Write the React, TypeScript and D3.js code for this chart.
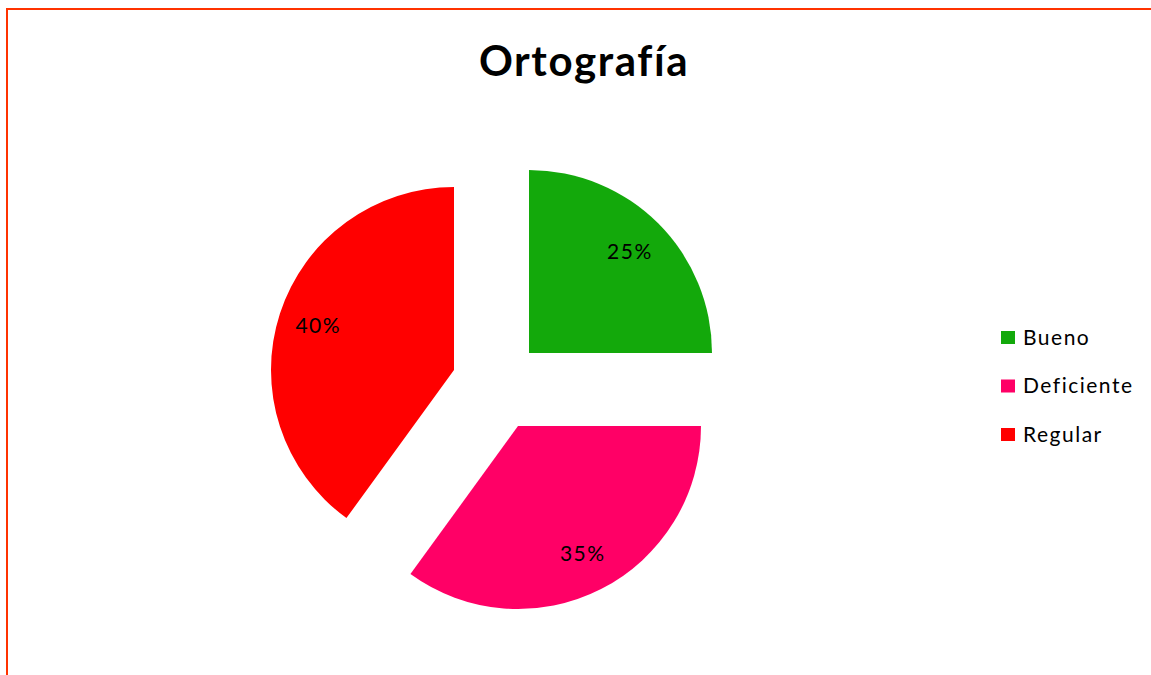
import * as d3 from 'd3'
import { useEffect, useRef } from 'react'

// datos del gráfico
const categories = ['Bueno', 'Deficiente', 'Regular']
const values = [25, 35, 40]
const colors = ['#13A90B', '#FF0066', '#FF0000']
const title = 'Ortografía'

// dónde queda el vértice de cada porción (gráfico "explotado")
const apex: [number, number][] = [[529, 353], [518, 426], [454, 370]]
const R = 183

function makeChart(svgEl: SVGSVGElement) {
    const svg = d3.select(svgEl)
    svg.selectAll('*').remove()

    // borde del área del gráfico
    svg.append('line').attr('x1', 7).attr('y1', 9).attr('x2', 1151).attr('y2', 9)
        .attr('stroke', '#FF3300').attr('stroke-width', 2)
    svg.append('line').attr('x1', 7).attr('y1', 8).attr('x2', 7).attr('y2', 675)
        .attr('stroke', '#FF3300').attr('stroke-width', 2)

    svg.append('text')
        .attr('x', 584).attr('y', 76)
        .attr('text-anchor', 'middle')
        .attr('font-family', 'Lato, sans-serif')
        .attr('font-weight', 'bold').attr('font-size', 42)
        .attr('letter-spacing', 1.6)
        .attr('fill', '#000')
        .text(title)

    const data = categories.map((c, i) => ({ name: c, value: values[i], color: colors[i] }))
    const pie = d3.pie<any>().value(d => d.value).sort(null)(data)
    const total = d3.sum(values)

    const arcMkr = d3.arc<any>().innerRadius(0).outerRadius(R)
    const lblArc = d3.arc<any>().innerRadius(R * 0.78).outerRadius(R * 0.78)

    const g = svg.selectAll('g.slice').data(pie).enter().append('g')
        .attr('class', 'slice')
        .attr('transform', (d, i) => `translate(${apex[i][0]}, ${apex[i][1]})`)

    g.append('path')
        .attr('d', arcMkr)
        .attr('fill', d => d.data.color)

    g.append('text')
        .attr('x', d => lblArc.centroid(d)[0])
        .attr('y', d => lblArc.centroid(d)[1])
        .attr('dy', '0.35em')
        .attr('text-anchor', 'middle')
        .attr('font-family', 'Lato, sans-serif').attr('font-size', 21)
        .attr('letter-spacing', 1.5)
        .attr('fill', '#000')
        .text(d => Math.round(d.data.value / total * 100) + '%')

    // leyenda
    const leg = svg.selectAll('g.leg').data(data).enter().append('g')
        .attr('class', 'leg')
        .attr('transform', (d, i) => `translate(1001, ${331 + i * 48.5})`)
    leg.append('rect').attr('width', 14).attr('height', 13).attr('fill', d => d.color)
    leg.append('text')
        .attr('x', 22).attr('y', 6.5).attr('dy', '0.35em')
        .attr('font-family', 'Lato, sans-serif').attr('font-size', 21)
        .attr('letter-spacing', 1.5)
        .attr('fill', '#000')
        .text(d => d.name)
}

export default function App() {
    const ref = useRef<SVGSVGElement>(null)
    useEffect(() => {
        if (ref.current) makeChart(ref.current)
    })
    return (
        <svg ref={ref} width={1151} height={675}
            style={{ position: 'absolute', left: 0, top: 0, background: '#fff' }} />
    )
}
